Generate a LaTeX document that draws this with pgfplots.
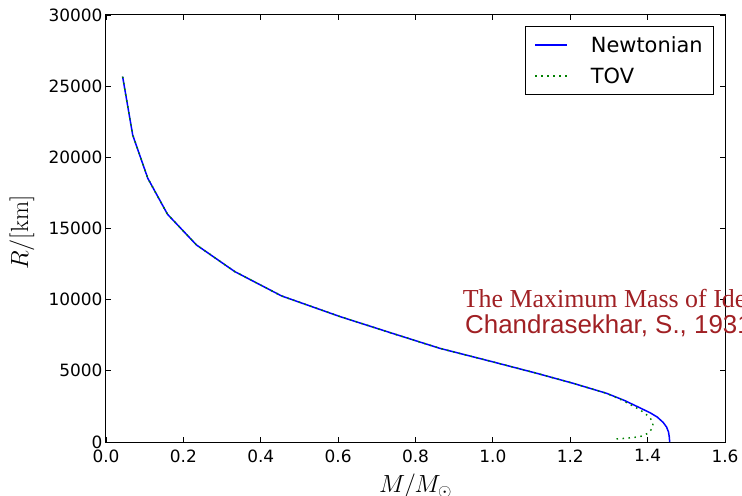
\documentclass[border=0pt]{standalone}
\usepackage{pgfplots}
\pgfplotsset{compat=1.18}
\usepackage[no-math]{fontspec}
\setmainfont{DejaVu Sans}
\newfontfamily\timesfont{Liberation Serif}
\newfontfamily\arialfont{Liberation Sans}
\definecolor{notered}{RGB}{160,32,36}
\definecolor{mplgreen}{rgb}{0,0.5,0}

\begin{document}
\begin{tikzpicture}
\useasboundingbox (-106bp,-54bp) rectangle (636bp,442bp);
\clip (-106bp,-54bp) rectangle (636bp,442bp);
\begin{axis}[
  at={(0,0)}, anchor=south west,
  width=619bp, height=427bp, scale only axis,
  xmin=0, xmax=1.6, ymin=0, ymax=30000,
  xtick={0,0.2,...,1.6}, ytick={0,5000,...,30000},
  scaled y ticks=false, scaled x ticks=false,
  /pgf/number format/assume math mode=true,
  xticklabel style={yshift=-4bp, /pgf/number format/.cd, fixed, fixed zerofill, precision=1},
  yticklabel style={/pgf/number format/.cd, set thousands separator={}},
  tick label style={font=\fontsize{17}{20}\selectfont},
  tick align=inside, major tick length=5bp,
  every tick/.style={black, line width=0.8bp},
  axis line style={line width=1bp},
  xlabel={$M/M_\odot$}, ylabel={$R/[\mathrm{km}]$},
  every axis x label/.style={at={(axis description cs:0.5,-0.119)}, anchor=base,
    font=\fontsize{26}{30}\selectfont},
  every axis y label/.style={at={(axis description cs:-0.136,0.49)}, rotate=90, anchor=center,
    font=\fontsize{26}{30}\selectfont},
  legend style={at={(0.982,0.974)}, anchor=north east,
    font=\fontsize{21}{25}\selectfont, inner xsep=9bp, inner ysep=8bp, row sep=10bp,
    /tikz/every odd column/.append style={column sep=21bp}},
  legend cell align=left,
  clip=false,
]
\addplot[draw=blue, line width=1.5bp,
  legend image code/.code={\draw[draw=blue, line width=1.5bp] (0bp,0bp) -- (32bp,0bp);}]
coordinates {
  (0.043,25670) (0.069,21570) (0.108,18530) (0.159,16000) (0.234,13840)
  (0.333,11970) (0.454,10260) (0.605,8810) (0.750,7550) (0.863,6580)
  (1.000,5630) (1.113,4830) (1.208,4120) (1.294,3420) (1.340,2920)
  (1.380,2400) (1.406,2060) (1.425,1750) (1.440,1380) (1.449,1050)
  (1.454,700) (1.456,350) (1.457,0)
};
\addplot[draw=mplgreen, line width=1.5bp, dash pattern=on 1.5bp off 4.5bp,
  legend image code/.code={\draw[draw=mplgreen, line width=1.5bp, dash pattern=on 1.5bp off 4.5bp] (0bp,0bp) -- (32bp,0bp);}]
coordinates {
  (0.043,25670) (0.069,21570) (0.108,18530) (0.159,16000) (0.234,13840)
  (0.333,11970) (0.454,10260) (0.605,8810) (0.750,7550) (0.863,6580)
  (1.000,5630) (1.113,4830) (1.208,4120) (1.294,3420) (1.330,2990)
  (1.354,2650) (1.378,2290) (1.393,2020) (1.407,1670) (1.414,1310)
  (1.412,960) (1.401,610) (1.380,370) (1.345,260) (1.315,210)
};
\legend{Newtonian, TOV}
\node[anchor=base west, inner sep=0pt, text=notered, font=\timesfont\fontsize{26}{30}\selectfont]
  at (axis cs:0.922,9415) {The Maximum Mass of Ideal White Dwarfs};
\node[anchor=base west, inner sep=0pt, text=notered, font=\arialfont\fontsize{26}{30}\selectfont]
  at (axis cs:0.928,7658) {Chandrasekhar, S., 1931};
\end{axis}
\end{tikzpicture}
\end{document}
